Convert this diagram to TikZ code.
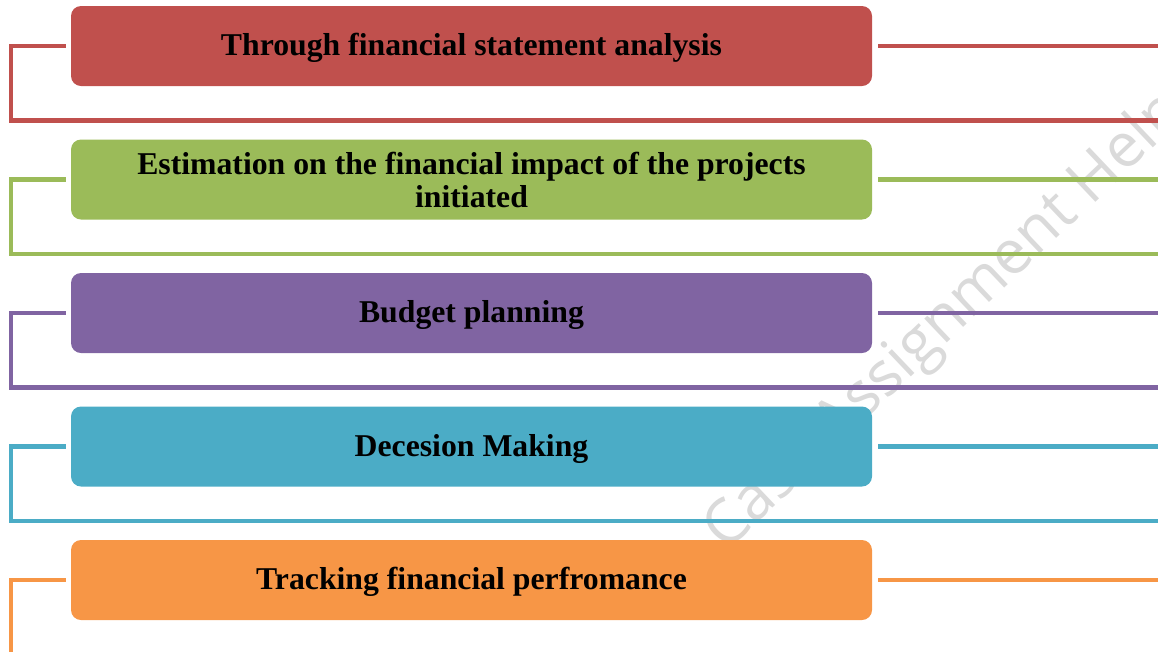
\documentclass[tikz,border=0pt]{standalone}
\usepackage{fontspec}
\setmainfont{Liberation Serif}
\newfontfamily\wmfont{Open Sans}
\definecolor{stepred}{HTML}{C0504D}
\definecolor{stepgreen}{HTML}{9BBB59}
\definecolor{steppurple}{HTML}{8064A2}
\definecolor{stepcyan}{HTML}{4BACC6}
\definecolor{steporange}{HTML}{F79646}
\definecolor{wmgray}{HTML}{DADADA}
\begin{document}
\begin{tikzpicture}[x=0.75pt,y=-0.75pt,
  itembox/.style={rounded corners=7.5pt, minimum width=600.75pt, minimum height=60pt,
    inner sep=0pt, align=center, text=black,
    font=\fontsize{23.8}{24.75}\selectfont\bfseries},
  oneline/.style={itembox, text height=17pt, text depth=2.2pt},
  frameline/.style={line width=3.4pt}]
\useasboundingbox (0,0) rectangle (1158,651);
\clip (0,0) rectangle (1158,651);

% faint watermark behind everything
\node[wmgray, rotate=43.5, font=\wmfont\fontsize{46}{46}\selectfont] (wm) at (946,322) {Case Assignment Help};

% the five steps
\node[oneline, fill=stepred]    (b1) at (471.5,46)    {Through financial statement analysis};
\node[itembox, fill=stepgreen]  (b2) at (471.5,179.5) {Estimation on the financial impact of the projects\\initiated};
\node[oneline, fill=steppurple] (b3) at (471.5,313)   {Budget planning};
\node[oneline, fill=stepcyan]   (b4) at (471.5,446.5) {Decesion Making};
\node[oneline, fill=steporange] (b5) at (471.5,580)   {Tracking financial perfromance};

% bracket lines around each step
\foreach \i/\c/\y/\yb in {1/stepred/46/120.5, 2/stepgreen/179.5/254, 3/steppurple/313/387.5,
                          4/stepcyan/446.5/521, 5/steporange/580/654.5} {
  \coordinate (L\i) at (11,\y);
  \coordinate (R\i) at (1160,\y);
  \coordinate (B\i) at (1160,\yb);
  \draw[frameline, \c] ([xshift=-3.75pt]b\i.west) -- (L\i) |- (B\i);
  \draw[frameline, \c] ([xshift=4.5pt]b\i.east) -- (R\i);
}
\end{tikzpicture}
\end{document}
